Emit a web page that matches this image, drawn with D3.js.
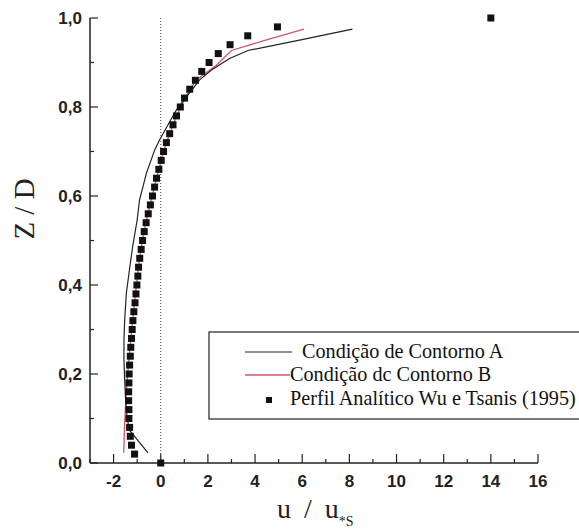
<!DOCTYPE html>
<html><head><meta charset="utf-8">
<script src="https://cdn.jsdelivr.net/npm/d3@7"></script>
<style>body{margin:0;background:#fff;} svg{display:block;}</style>
</head><body>
<svg id="c" width="579" height="531"></svg>
<script>
// Analytic profile (Wu e Tsanis 1995): z/D and u/u*s
const analyticZ = [1.00,0.98,0.96,0.94,0.92,0.90,0.88,0.86,0.84,0.82,0.80,0.78,0.76,0.74,0.72,0.70,0.68,0.66,0.64,0.62,0.60,0.58,0.56,0.54,0.52,0.50,0.48,0.46,0.44,0.42,0.40,0.38,0.36,0.34,0.32,0.30,0.28,0.26,0.24,0.22,0.20,0.18,0.16,0.14,0.12,0.10,0.08,0.06,0.04,0.02,0.00];
const analyticU = [14.0,4.95,3.69,2.94,2.44,2.05,1.74,1.47,1.23,1.01,0.83,0.67,0.52,0.38,0.24,0.12,0.02,-0.08,-0.18,-0.26,-0.35,-0.44,-0.53,-0.62,-0.70,-0.77,-0.83,-0.89,-0.94,-0.97,-1.01,-1.05,-1.09,-1.14,-1.18,-1.21,-1.24,-1.27,-1.29,-1.32,-1.34,-1.35,-1.36,-1.36,-1.35,-1.35,-1.32,-1.29,-1.24,-1.11,0.00];
// Condição de Contorno A
const lineAZ = [0.975,0.952,0.927,0.909,0.883,0.861,0.823,0.793,0.767,0.726,0.703,0.651,0.591,0.546,0.490,0.437,0.381,0.321,0.276,0.231,0.187,0.142,0.097,0.072,0.023];
const lineAU = [8.13,6.04,3.70,2.92,2.15,1.65,1.09,0.66,0.38,-0.05,-0.26,-0.61,-0.90,-1.00,-1.18,-1.32,-1.46,-1.53,-1.56,-1.56,-1.53,-1.49,-1.42,-1.30,-0.54];
// Condição de Contorno B
const lineBZ = [0.975,0.951,0.927,0.894,0.883,0.86,0.84,0.82,0.80,0.78,0.76,0.74,0.72,0.70,0.66,0.62,0.58,0.54,0.50,0.46,0.42,0.38,0.34,0.30,0.26,0.22,0.18,0.14,0.10,0.06,0.023];
const lineBU = [6.08,4.48,3.00,2.36,2.08,1.50,1.25,1.03,0.84,0.68,0.52,0.38,0.24,0.12,-0.08,-0.27,-0.45,-0.63,-0.78,-0.90,-0.99,-1.07,-1.15,-1.23,-1.30,-1.37,-1.43,-1.48,-1.52,-1.55,-1.57];
const xTicks = [-2,0,2,4,6,8,10,12,14,16];
const yTicks = [0,0.2,0.4,0.6,0.8,1.0];
const legendLabels = ["Condição de Contorno A","Condição dc Contorno B","Perfil Analítico Wu e Tsanis (1995)"];

const svg = d3.select("#c");
const x = d3.scaleLinear().domain([-3,16]).range([90,538]);
const y = d3.scaleLinear().domain([0,1]).range([463,18]);
const fmt = d => d3.format(".1f")(d).replace(".", ",");
const sans = "'Liberation Sans', Arimo, sans-serif";
const serif = "'Liberation Serif', 'DejaVu Serif', serif";

// axes
const gx = svg.append("g").attr("transform","translate(0,463)");
gx.append("line").attr("x1",90).attr("x2",538).attr("stroke","#222").attr("stroke-width",1.5);
gx.selectAll(".t").data(d3.range(-3,17,1)).join("line")
  .attr("x1",d=>x(d)).attr("x2",d=>x(d)).attr("y1",0)
  .attr("y2",d=>xTicks.includes(d)?-9:-4).attr("stroke","#222").attr("stroke-width",1.2);
gx.selectAll(".l").data(xTicks).join("text")
  .attr("x",d=>x(d)).attr("y",24).attr("text-anchor","middle")
  .attr("font-family",sans).attr("font-size",17).attr("font-weight",600).attr("fill","#222")
  .text(d=>d);

const gy = svg.append("g");
gy.append("line").attr("x1",90).attr("x2",90).attr("y1",y(0)).attr("y2",y(1)).attr("stroke","#222").attr("stroke-width",1.5);
const yAll = d3.range(0,11).map(i=>i/10);
gy.selectAll(".t").data(yAll).join("line")
  .attr("x1",90).attr("x2",(d,i)=>i%2===0?98:94).attr("y1",d=>y(d)).attr("y2",d=>y(d))
  .attr("stroke","#222").attr("stroke-width",1.2);
gy.selectAll(".l").data(yTicks).join("text")
  .attr("x",82).attr("y",d=>y(d)+6).attr("text-anchor","end")
  .attr("font-family",sans).attr("font-size",17).attr("font-weight",600).attr("fill","#222")
  .text(fmt);

// zero dotted line
svg.append("line").attr("x1",x(0)).attr("x2",x(0)).attr("y1",y(1)).attr("y2",y(0))
  .attr("stroke","#444").attr("stroke-width",1).attr("stroke-dasharray","1,2");

const line = d3.line().x(d=>x(d[0])).y(d=>y(d[1]));
svg.append("path").datum(lineBU.map((u,i)=>[u,lineBZ[i]])).attr("d",line)
  .attr("fill","none").attr("stroke","#d0566a").attr("stroke-width",1.3);
svg.append("path").datum(lineAU.map((u,i)=>[u,lineAZ[i]])).attr("d",line)
  .attr("fill","none").attr("stroke","#222").attr("stroke-width",1.2);
svg.selectAll(".pt").data(analyticU.map((u,i)=>[u,analyticZ[i]])).join("rect")
  .attr("x",d=>x(d[0])-3.5).attr("y",d=>y(d[1])-3.5).attr("width",7).attr("height",7)
  .attr("fill","#111");

// legend
const lg = svg.append("g");
lg.append("rect").attr("x",209).attr("y",332).attr("width",380).attr("height",87)
  .attr("fill","#fff").attr("stroke","#222").attr("stroke-width",1.2);
lg.append("line").attr("x1",245).attr("x2",292).attr("y1",352).attr("y2",352).attr("stroke","#222").attr("stroke-width",1.2);
lg.append("line").attr("x1",245).attr("x2",290).attr("y1",375).attr("y2",375).attr("stroke","#d0566a").attr("stroke-width",1.3);
lg.append("rect").attr("x",266).attr("y",397).attr("width",6).attr("height",6).attr("fill","#111");
const lx = [302,290,290], ly = [358,381,405];
lg.selectAll("text").data(legendLabels).join("text")
  .attr("x",(d,i)=>lx[i]).attr("y",(d,i)=>ly[i])
  .attr("font-family",serif).attr("font-size",20.2).attr("fill","#111").text(d=>d);

// axis titles
svg.append("text").attr("transform","translate(34,209) rotate(-90)").attr("text-anchor","middle")
  .attr("font-family",serif).attr("font-size",29).attr("fill","#222").text("Z / D");
const xt = svg.append("text").attr("x",277).attr("y",518).attr("font-family",serif)
  .attr("font-size",28).attr("word-spacing",6).attr("fill","#222");
xt.append("tspan").text("u / u");
xt.append("tspan").attr("font-size",14).attr("dy",8).attr("dx",0).text("*S");
</script>
</body></html>
